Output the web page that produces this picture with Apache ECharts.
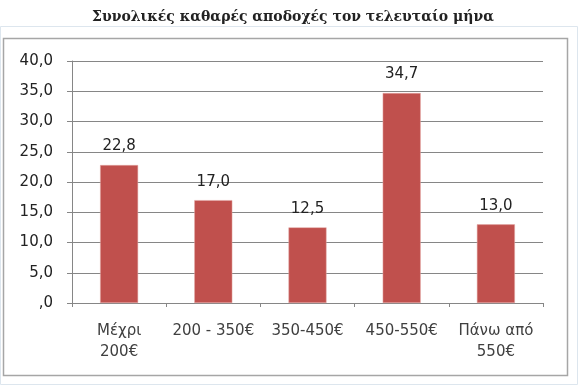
<!DOCTYPE html>
<html><head><meta charset="utf-8">
<script src="https://cdn.jsdelivr.net/npm/echarts@6/dist/echarts.min.js"></script>
<style>html,body{margin:0;padding:0;background:#fff}#c{width:582px;height:389px}</style>
</head><body><div id="c"></div>
<script>
const title = 'Συνολικές καθαρές αποδοχές τον τελευταίο μήνα';
const categories = ['Μέχρι\n200€', '200 - 350€', '350-450€', '450-550€', 'Πάνω από\n550€'];
const values = [22.8, 17.0, 12.5, 34.7, 13.0];
const yTicks = [0, 5, 10, 15, 20, 25, 30, 35, 40];

function fmt(v){
  const s = v.toFixed(1).replace('.', ',');
  return s.startsWith('0,') ? s.slice(1) : s;
}
const chart = echarts.init(document.getElementById('c'));
chart.setOption({
  animation: false,
  title: {text: title, left: 288, textAlign: 'center', top: 5,
    textStyle: {fontFamily: 'DejaVu Serif', fontWeight: 'bold', fontSize: 14, color: '#222'}},
  graphic: [
    {type: 'rect', shape: {x: 0.5, y: 26.5, width: 577, height: 358}, style: {fill: 'none', stroke: '#dde6ee', lineWidth: 1}, z: -1},
    {type: 'rect', shape: {x: 3.5, y: 38.5, width: 564, height: 337}, style: {fill: '#fff', stroke: '#a6a6a6', lineWidth: 1.5}, z: -1}
  ],
  grid: {left: 72, right: 39, top: 61, bottom: 86},
  xAxis: {type: 'category', data: categories,
    axisLine: {lineStyle: {color: '#868686'}},
    axisTick: {show: true, length: 4, lineStyle: {color: '#868686'}},
    axisLabel: {color: '#404040', fontFamily: 'DejaVu Sans', fontSize: 15, lineHeight: 21, margin: 18, interval: 0}},
  yAxis: {type: 'value', min: yTicks[0], max: yTicks[yTicks.length-1], interval: 5,
    axisLine: {show: true, lineStyle: {color: '#868686'}},
    axisTick: {show: true, length: 5, lineStyle: {color: '#868686'}},
    splitLine: {lineStyle: {color: '#868686'}},
    axisLabel: {color: '#222', fontFamily: 'DejaVu Sans', fontSize: 15, margin: 19, formatter: fmt}},
  series: [{type: 'bar', data: values, barWidth: 38,
    itemStyle: {color: '#c0504d', borderColor: '#e5a9a7', borderWidth: 0.5},
    label: {show: true, position: 'top', distance: 11, color: '#222', fontFamily: 'DejaVu Sans', fontSize: 15, formatter: p => fmt(p.value)}}]
});
</script></body></html>
